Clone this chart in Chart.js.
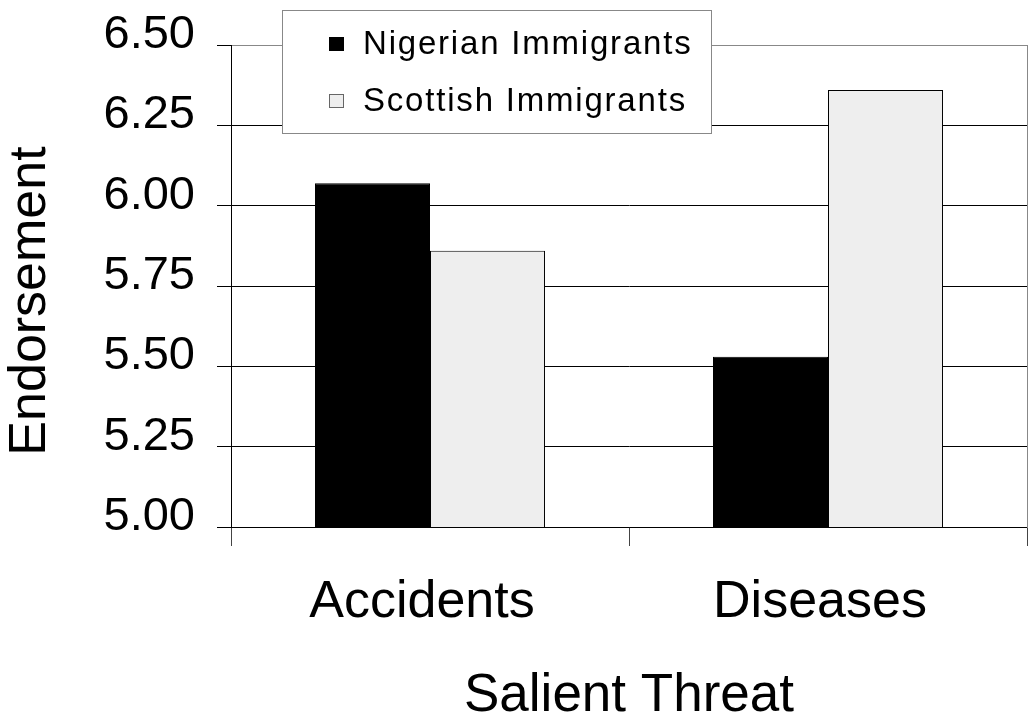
<!DOCTYPE html>
<html><head><meta charset="utf-8">
<script src="https://cdn.jsdelivr.net/npm/chart.js@4.4.1/dist/chart.umd.min.js"></script>
<style>html,body{margin:0;padding:0;background:#fff;}</style>
</head><body>
<canvas id="c" width="1030" height="720" style="display:block;width:1030px;height:720px"></canvas>
<script>
const categories = ['Accidents', 'Diseases'];
const seriesNames = ['Nigerian Immigrants', 'Scottish Immigrants'];
const nigerianValues = [6.07, 5.53];
const scottishValues = [5.86, 6.36];
const yMin = 5.00, yMax = 6.50, yStep = 0.25;
const xTitle = 'Salient Threat';
const yTitle = 'Endorsement';
const seriesColors = ['#000000', '#eeeeee'];

const FONT = 'Arial, "Liberation Sans", Helvetica, sans-serif';

const boxLegend = {
  id: 'boxLegend',
  afterDraw(chart) {
    const ctx = chart.ctx;
    const ca = chart.chartArea;
    // y axis title
    ctx.save();
    ctx.font = '52px ' + FONT;
    ctx.fillStyle = '#000';
    ctx.textAlign = 'center';
    ctx.textBaseline = 'middle';
    ctx.translate(31, (ca.top + ca.bottom) / 2 + 15);
    ctx.rotate(-Math.PI / 2);
    ctx.fillText(yTitle, 0, 0);
    ctx.restore();

    // boxed legend
    const bx = ca.left + 51, by = 10, bw = 429, bh = 123;
    ctx.save();
    ctx.fillStyle = '#ffffff';
    ctx.fillRect(bx, by, bw, bh);
    ctx.strokeStyle = '#888888';
    ctx.lineWidth = 1;
    ctx.strokeRect(bx + 0.5, by + 0.5, bw, bh);
    ctx.font = '33px ' + FONT;
    ctx.textBaseline = 'middle';
    ctx.textAlign = 'left';
    try { ctx.letterSpacing = '1.8px'; } catch (e) {}
    chart.data.datasets.forEach((ds, i) => {
      const cy = by + 34 + i * 57;
      ctx.fillStyle = ds.backgroundColor;
      ctx.fillRect(bx + 47, cy - 7, 15, 14);
      ctx.strokeStyle = i === 0 ? '#000' : '#666';
      ctx.strokeRect(bx + 47.5, cy - 6.5, 14, 13);
      ctx.fillStyle = '#000';
      ctx.fillText(ds.label, bx + 81, cy + 1);
    });
    ctx.restore();
  }
};

new Chart(document.getElementById('c'), {
  type: 'bar',
  data: {
    labels: categories,
    datasets: [
      { label: seriesNames[0], data: nigerianValues, backgroundColor: seriesColors[0], borderColor: '#000', borderWidth: 1 },
      { label: seriesNames[1], data: scottishValues, backgroundColor: seriesColors[1], borderColor: '#000', borderWidth: 1 }
    ]
  },
  plugins: [boxLegend],
  options: {
    responsive: false,
    animation: false,
    devicePixelRatio: 1,
    layout: { padding: { left: 0, top: 45, right: 3, bottom: 0 } },
    datasets: { bar: { categoryPercentage: 0.578, barPercentage: 1.0 } },
    plugins: { legend: { display: false }, tooltip: { enabled: false } },
    scales: {
      x: {
        afterFit: s => { s.height = 193; },
        grid: { offset: true, drawOnChartArea: false, drawTicks: true, tickLength: 19, color: '#444' },
        border: { display: true, color: '#000' },
        ticks: { color: '#000', padding: 25, labelOffset: -8, font: { family: FONT, size: 52 } },
        title: { display: true, text: xTitle, color: '#000', font: { family: FONT, size: 53, lineHeight: 0.9 }, padding: 0 }
      },
      y: {
        min: yMin, max: yMax,
        afterFit: s => { s.width = 231; },
        grid: {
          color: c => (c.tick && c.tick.value === yMax) ? '#888' : '#000',
          tickColor: '#000', tickLength: 14, drawTicks: true
        },
        border: { display: true, color: '#000' },
        ticks: { stepSize: yStep, color: '#000', padding: 22, labelOffset: -10, font: { family: FONT, size: 47, lineHeight: 0.4 }, callback: v => Number(v).toFixed(2) },
        title: { display: false }
      },
      yRight: {
        position: 'right',
        min: yMin, max: yMax,
        afterFit: s => { s.width = 0; },
        grid: { drawOnChartArea: false, drawTicks: false },
        border: { display: true, color: '#888' },
        ticks: { display: false }
      }
    }
  }
});
</script>
</body></html>
